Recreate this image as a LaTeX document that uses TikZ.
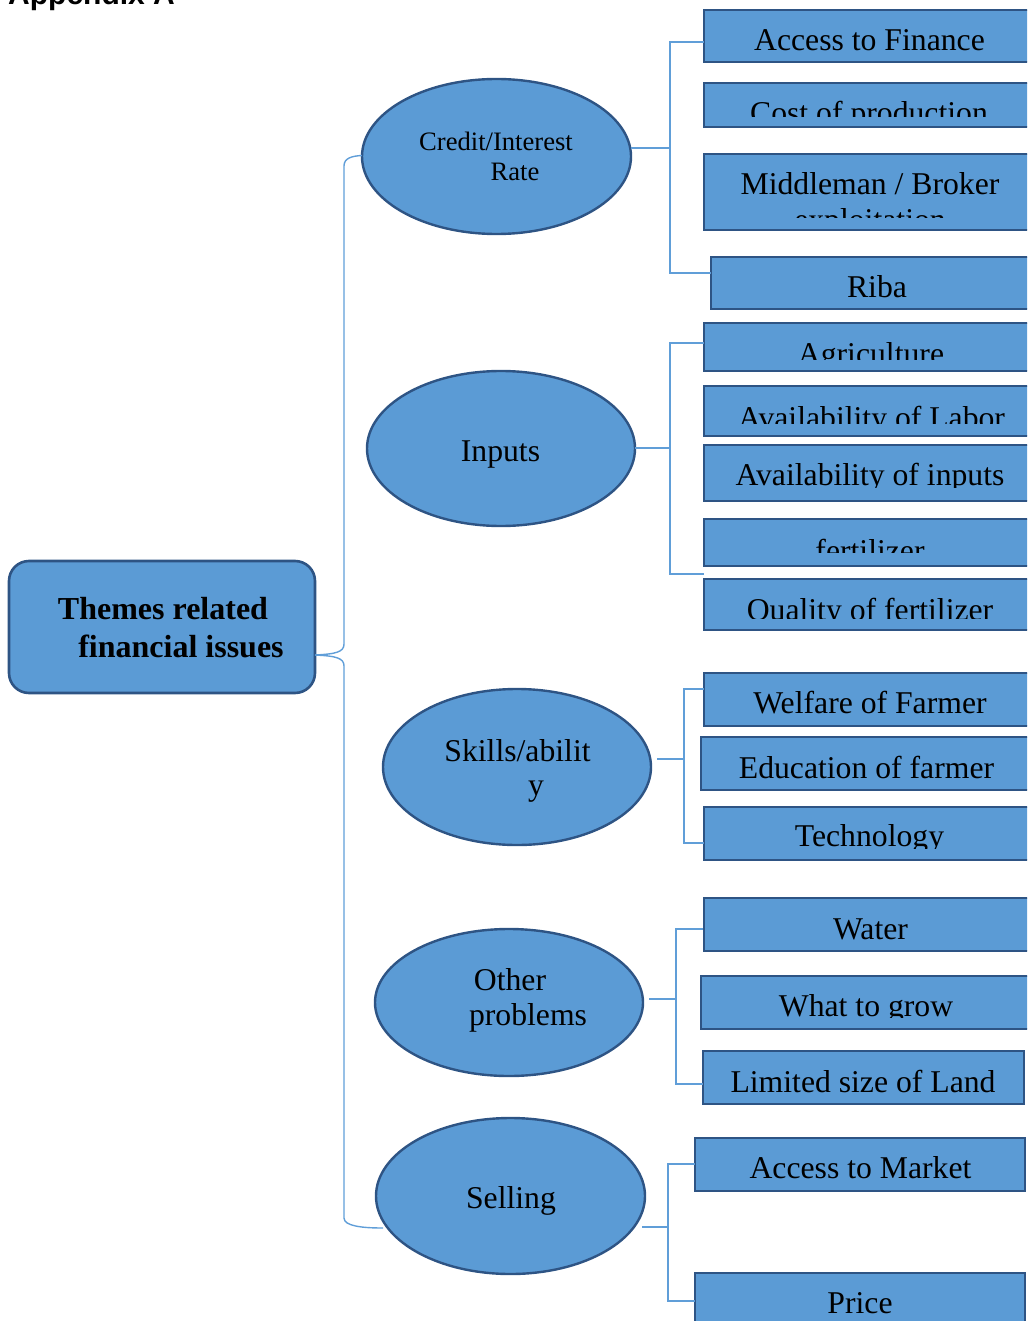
\documentclass[tikz,border=0pt]{standalone}
\usepackage{fontspec}
\setmainfont{Liberation Serif}
\newfontfamily\hdrfont{Liberation Sans}
\usetikzlibrary{shapes.geometric}
\definecolor{fillblue}{RGB}{91,155,213}
\definecolor{edgeblue}{RGB}{46,84,132}
\definecolor{connblue}{RGB}{96,158,216}
\tikzset{
  leafbox/.style={draw=edgeblue, fill=fillblue, line width=2.8pt, inner sep=0pt, outer sep=0pt},
  leaftext/.style={anchor=base, inner sep=0pt, font=\fontsize{31.7}{36}\selectfont},
  ell/.style={ellipse, draw=edgeblue, fill=fillblue, line width=2.4pt, inner sep=0pt},
  elltext/.style={anchor=base, inner sep=0pt, font=\fontsize{31.7}{36}\selectfont},
  smalltext/.style={anchor=base, inner sep=0pt, font=\fontsize{26.6}{30}\selectfont},
  rootbox/.style={draw=edgeblue, fill=fillblue, line width=2.6pt, rounded corners=20pt, inner sep=0pt},
  roottext/.style={anchor=base, inner sep=0pt, font=\bfseries\fontsize{32}{37}\selectfont},
  conn/.style={draw=connblue, line width=1.4pt},
}
% name, left, top, right, bottom, clipY, cx, baseline, text
\newcommand\leaf[9]{%
  \node[leafbox, anchor=north west, minimum width={(#4-#2)*1pt}, minimum height={(#5-#3)*1pt}] (#1) at (#2,#3) {};
  \begin{scope}
    \clip (#2,#3) rectangle (#4,#6);
    \node[leaftext] (#1t) at (#7,#8) {#9};
  \end{scope}}
\begin{document}
\begin{tikzpicture}[x=1pt,y=-1pt]
\useasboundingbox (0,0) rectangle (1027,1321);
\clip (0,0) rectangle (1027,1321);

% header (cut off at top)
\node[anchor=base west, inner sep=0pt, font=\hdrfont\bfseries\fontsize{30}{36}\selectfont] (hdr) at (8,5) {Appendix A};

% root
\node[rootbox, minimum width=306pt, minimum height=132pt] (root) at (162,627) {};
\node[roottext] (rt1) at (163,619) {Themes related};
\node[roottext] (rt2) at (181,657) {financial issues};

% ellipses
\node[ell, minimum width=269pt, minimum height=155pt] (e1) at (496.5,156.5) {};
\node[smalltext] (e1t1) at (496,151) {Credit/Interest};
\node[smalltext] (e1t2) at (515,181) {Rate};
\node[ell, minimum width=268pt, minimum height=155pt] (e2) at (501,448.5) {};
\node[elltext] (e2t) at (500.5,461) {Inputs};
\node[ell, minimum width=268pt, minimum height=156pt] (e3) at (517,767) {};
\node[elltext] (e3t1) at (517.5,761) {Skills/abilit};
\node[elltext] (e3t2) at (536,795) {y};
\node[ell, minimum width=268pt, minimum height=147pt] (e4) at (509,1002.5) {};
\node[elltext] (e4t1) at (510,990) {Other};
\node[elltext] (e4t2) at (528,1025) {problems};
\node[ell, minimum width=269pt, minimum height=156pt] (e5) at (510.5,1196) {};
\node[elltext] (e5t) at (511,1208) {Selling};

% group 1
\leaf{a1}{704}{10}{1035}{62}{62}{869.5}{51}{Access to Finance}
\leaf{a2}{704}{83}{1035}{127}{117}{869}{124}{Cost of production}
\leaf{a3}{704}{154}{1035}{230}{218}{870}{195}{Middleman / Broker}
\begin{scope}
  \clip (704,154) rectangle (1035,218);
  \node[leaftext] (a3t2) at (870,231) {exploitation};
\end{scope}
\leaf{a4}{711}{257}{1043}{309}{309}{877}{298}{Riba}

% group 2
\leaf{b1}{704}{323}{1035}{371}{359}{871}{364}{Agriculture}
\leaf{b2}{704}{386}{1035}{436}{423}{871.5}{428}{Availability of Labor}
\leaf{b3}{704}{445}{1035}{501}{487}{870}{485}{Availability of inputs}
\leaf{b4}{704}{519}{1035}{566}{552}{870}{561}{fertilizer}
\leaf{b5}{704}{579}{1035}{630}{618}{870}{620}{Quality of fertilizer}

% group 3
\leaf{c1}{704}{673}{1035}{726}{726}{870}{713}{Welfare of Farmer}
\leaf{c2}{701}{737}{1032}{790}{790}{866.5}{778}{Education of farmer}
\leaf{c3}{704}{807}{1035}{860}{848}{869.5}{846}{Technology}

% group 4
\leaf{d1}{704}{898}{1037}{951}{951}{870.5}{939}{Water}
\leaf{d2}{701}{976}{1032}{1029}{1017}{866}{1016}{What to grow}
\leaf{d3}{703}{1051}{1024}{1104}{1104}{863}{1092}{Limited size of Land}

% group 5
\leaf{f1}{695}{1138}{1025}{1191}{1191}{860.5}{1178}{Access to Market}
\leaf{f2}{695}{1273}{1025}{1345}{1345}{860}{1313}{Price}

% trunk connectors
\coordinate (rc) at (315,655);
\coordinate (e1w) at (362,155.5);
\coordinate (e5in) at (383,1228);
\draw[conn] (rc) .. controls (336,654) and (344,652) .. (344,644) -- (344,166) .. controls (344,158) and (352,156) .. (e1w);
\draw[conn] (rc) .. controls (336,656) and (344,658) .. (344,666) -- (344,1218) .. controls (344,1226) and (362,1228) .. (e5in);

% group 1 connectors
\coordinate (g1e) at (631,148);
\coordinate (g1a) at (704,42);
\coordinate (g1b) at (711,273);
\draw[conn] (g1e) -- (670,148);
\draw[conn] (g1a) -- (670,42) -- (670,273) -- (g1b);

% group 2 connectors
\coordinate (g2e) at (635,448);
\coordinate (g2a) at (704,343);
\coordinate (g2b) at (704,574);
\draw[conn] (g2e) -- (670,448);
\draw[conn] (g2a) -- (670,343) -- (670,574) -- (g2b);

% group 3 connectors
\coordinate (g3e) at (657,759);
\coordinate (g3a) at (704,689);
\coordinate (g3b) at (704,843);
\draw[conn] (g3e) -- (684,759);
\draw[conn] (g3a) -- (684,689) -- (684,843) -- (g3b);

% group 4 connectors
\coordinate (g4e) at (649,999);
\coordinate (g4a) at (703,929);
\coordinate (g4b) at (703,1084);
\draw[conn] (g4e) -- (676,999);
\draw[conn] (g4a) -- (676,929) -- (676,1084) -- (g4b);

% group 5 connectors
\coordinate (g5e) at (642,1227);
\coordinate (g5a) at (695,1164);
\coordinate (g5b) at (695,1301);
\draw[conn] (g5e) -- (668,1227);
\draw[conn] (g5a) -- (668,1164) -- (668,1301) -- (g5b);
\end{tikzpicture}
\end{document}
